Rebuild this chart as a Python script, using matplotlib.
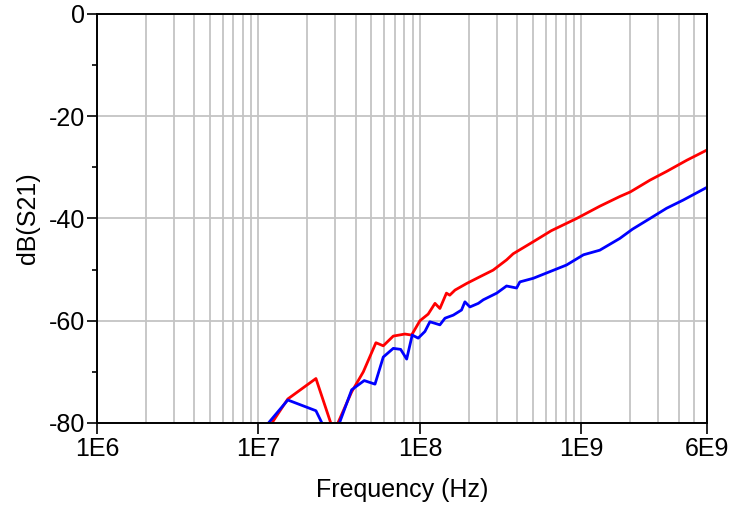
import matplotlib
matplotlib.use("Agg")
import matplotlib.pyplot as plt
from matplotlib.ticker import FixedLocator, NullFormatter

plt.rcParams['font.family'] = ['Liberation Sans', 'DejaVu Sans']
plt.rcParams['axes.unicode_minus'] = False

# Data (frequency in Hz, dB(S21))
red_freq = [1.10e7, 1.52e7, 2.27e7, 2.93e7, 3.78e7, 4.46e7, 5.34e7, 5.93e7, 6.84e7,
            8.07e7, 8.88e7, 1.00e8, 1.125e8, 1.24e8, 1.33e8, 1.46e8, 1.53e8, 1.65e8,
            1.95e8, 2.35e8, 2.84e8, 3.44e8, 3.78e8, 5.0e8, 6.5e8, 9.34e8, 1.30e9,
            1.73e9, 2.01e9, 2.66e9, 3.37e9, 4.5e9, 6.0e9]
red_db = [-82.0, -75.3, -71.3, -81.8, -73.9, -70.0, -64.3, -64.9, -63.0,
          -62.6, -62.8, -60.0, -58.7, -56.6, -57.6, -54.6, -55.0, -54.0,
          -52.7, -51.4, -50.1, -48.1, -46.9, -44.6, -42.4, -40.0, -37.6,
          -35.7, -34.8, -32.5, -30.8, -28.6, -26.6]

blue_freq = [1.02e7, 1.52e7, 2.27e7, 2.85e7, 3.78e7, 4.52e7, 5.27e7, 5.93e7, 6.84e7,
             7.60e7, 8.28e7, 8.96e7, 9.76e7, 1.074e8, 1.153e8, 1.33e8, 1.43e8, 1.61e8,
             1.81e8, 1.90e8, 2.04e8, 2.30e8, 2.47e8, 2.99e8, 3.44e8, 3.97e8, 4.16e8,
             5.03e8, 8.09e8, 1.03e9, 1.30e9, 1.73e9, 2.07e9, 2.66e9, 3.37e9, 4.27e9,
             6.0e9]
blue_db = [-82.0, -75.5, -77.6, -84.0, -73.5, -71.7, -72.4, -67.1, -65.4,
           -65.6, -67.5, -62.8, -63.4, -62.1, -60.2, -60.8, -59.5, -58.9,
           -57.9, -56.3, -57.3, -56.6, -55.9, -54.6, -53.2, -53.6, -52.4,
           -51.7, -49.1, -47.1, -46.2, -43.9, -42.1, -40.0, -38.0, -36.4,
           -33.9]

xticks = [1e6, 1e7, 1e8, 1e9, 6e9]
xtick_labels = ['1E6', '1E7', '1E8', '1E9', '6E9']
yticks = [0, -20, -40, -60, -80]

fig = plt.figure(figsize=(7.35, 5.05), dpi=100)
ax = fig.add_axes([97/735, 1 - 423/505, 610/735, 409/505])

ax.plot(red_freq, red_db, color='#ff0000', lw=2.0, zorder=3)
ax.plot(blue_freq, blue_db, color='#0000ff', lw=2.0, zorder=4)

ax.set_xscale('log')
ax.set_xlim(1e6, 6e9)
ax.set_ylim(-80, 0)

ax.xaxis.set_major_locator(FixedLocator(xticks))
ax.set_xticklabels(xtick_labels)
minor_x = [m * 10**e for e in range(6, 10) for m in range(2, 10) if m * 10**e < 6e9]
ax.xaxis.set_minor_locator(FixedLocator(minor_x))
ax.xaxis.set_minor_formatter(NullFormatter())

ax.yaxis.set_major_locator(FixedLocator(yticks))
ax.yaxis.set_minor_locator(FixedLocator([-10, -30, -50, -70]))

ax.grid(True, which='major', color='#c4c4c4', lw=1.3, zorder=1)
ax.grid(True, which='minor', axis='x', color='#c4c4c4', lw=1.3, zorder=1)

ax.tick_params(axis='x', which='major', direction='out', length=8, width=1.2, pad=2, labelsize=18)
ax.tick_params(axis='x', which='minor', length=0)
ax.tick_params(axis='y', which='major', direction='out', length=7.5, width=1.2, pad=1, labelsize=18)
ax.tick_params(axis='y', which='minor', direction='out', length=3.6, width=1.2)

for s in ax.spines.values():
    s.set_linewidth(1.4)
    s.set_color('black')
    s.set_zorder(5)

ax.set_xlabel('Frequency (Hz)', fontsize=18, labelpad=12)
ax.set_ylabel('dB(S21)', fontsize=18, labelpad=6)

fig.savefig('out.png', dpi=100)
